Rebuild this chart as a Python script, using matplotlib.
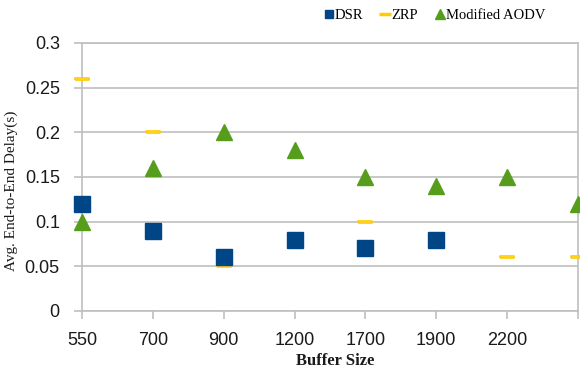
import numpy as np
import matplotlib
matplotlib.use("Agg")
import matplotlib.pyplot as plt
from matplotlib.lines import Line2D

# Buffer sizes (the last category has no printed label)
buffer_sizes = ["550", "700", "900", "1200", "1700", "1900", "2200", ""]
dsr = [0.12, 0.09, 0.06, 0.08, 0.07, 0.08, np.nan, np.nan]
zrp = [0.26, 0.20, 0.05, 0.08, 0.10, 0.08, 0.06, 0.06]
modified_aodv = [0.10, 0.16, 0.20, 0.18, 0.15, 0.14, 0.15, 0.12]

serif = ["Liberation Serif", "DejaVu Serif"]
sans = ["Liberation Sans", "DejaVu Sans"]

fig = plt.figure(figsize=(5.8, 3.69), dpi=100)
ax = fig.add_axes([0.1414, 0.1572, 0.8552, 0.7263])

x = np.arange(len(buffer_sizes))

grid_c = "#bfbfbf"
ax.set_axisbelow(True)
ax.yaxis.grid(True, color=grid_c, linewidth=1.2)

# ZRP drawn as short flat outlined dashes
dash = [(-1, -0.16), (1, -0.16), (1, 0.16), (-1, 0.16), (-1, -0.16)]
ax.scatter(x, zrp, marker=dash, s=105, facecolor="#fff3c0",
           edgecolor="#ffcc00", linewidths=1.2, zorder=3, clip_on=False)
ax.plot(x, dsr, linestyle="none", marker="s", markersize=11,
        color="#004586", markeredgecolor="#004586", zorder=4, clip_on=False)
ax.plot(x, modified_aodv, linestyle="none", marker="^", markersize=12,
        color="#579d1c", markeredgecolor="#579d1c", zorder=5, clip_on=False)

ax.set_xlim(0, 7)
ax.set_ylim(0, 0.3)
ax.set_yticks(np.arange(0, 0.301, 0.05))
ax.set_yticklabels(["0", "0.05", "0.1", "0.15", "0.2", "0.25", "0.3"],
                   fontfamily=sans, fontsize=13)
ax.set_xticks(x)
ax.set_xticklabels(buffer_sizes, fontfamily=sans, fontsize=13)
ax.tick_params(axis="both", colors=grid_c, labelcolor="#1a1a1a",
               length=6, width=1.2)
ax.tick_params(axis="x", pad=9)
ax.tick_params(axis="y", pad=10)

for s in ax.spines.values():
    s.set_color(grid_c)
    s.set_linewidth(1.2)

ax.set_xlabel("Buffer Size", fontfamily=serif, fontsize=12, fontweight="bold",
              color="#1a1a1a")
ax.xaxis.set_label_coords(0.51, -0.187, transform=ax.transAxes)
ax.xaxis.label.set_va("center")
ax.set_ylabel("Avg. End-to-End Delay(s)", fontfamily=serif, fontsize=11,
              color="#1a1a1a")
ax.yaxis.set_label_coords(-0.143, 0.448, transform=ax.transAxes)
ax.yaxis.label.set_va("center")

handles = [
    Line2D([], [], linestyle="none", marker="s", markersize=6, color="#004586"),
    Line2D([], [], linestyle="none", marker="_", markersize=8,
           markeredgewidth=2.5, color="#ffcc00"),
    Line2D([], [], linestyle="none", marker="^", markersize=7, color="#579d1c"),
]
fig.legend(handles, ["DSR", "ZRP", "Modified AODV"], loc="center",
           bbox_to_anchor=(0.75, 0.958), ncol=3, frameon=False,
           prop={"family": serif, "size": 10.5}, handlelength=0.6,
           handletextpad=0.1, columnspacing=1.2)

fig.savefig("out.png", dpi=100)
